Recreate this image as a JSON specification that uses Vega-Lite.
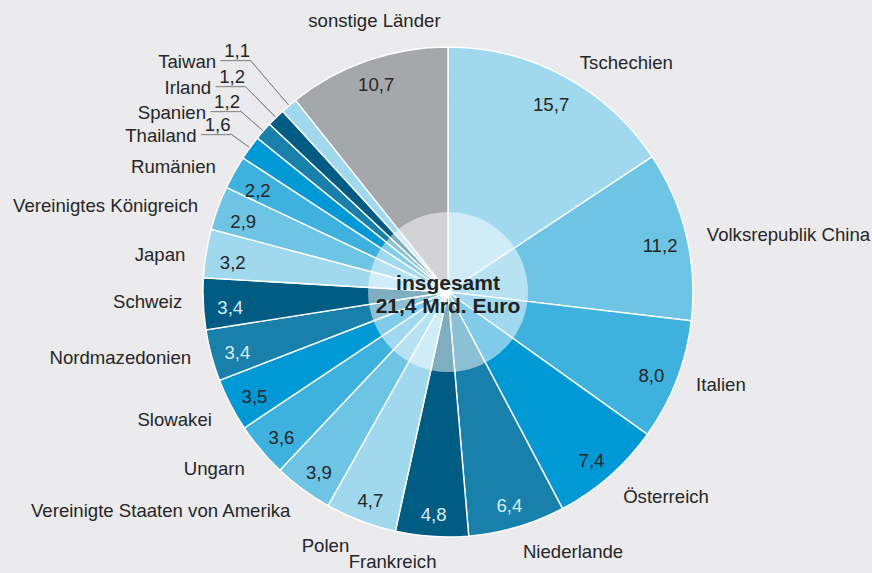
{
  "$schema": "https://vega.github.io/schema/vega-lite/v6.json",
  "width": 848,
  "height": 562,
  "autosize": "none",
  "padding": {"left": 24, "top": 11, "right": 0, "bottom": 0},
  "background": "#ebebed",
  "config": {
    "view": {"stroke": null},
    "locale": {"number": {"decimal": ",", "thousands": ".", "grouping": [3], "currency": ["", " €"]}},
    "text": {"font": "Liberation Sans", "fontSize": 18.6, "color": "#262626"}
  },
  "data": {
    "values": [
      {"country": "Tschechien", "share": 15.7},
      {"country": "Volksrepublik China", "share": 11.2},
      {"country": "Italien", "share": 8.0},
      {"country": "Österreich", "share": 7.4},
      {"country": "Niederlande", "share": 6.4},
      {"country": "Frankreich", "share": 4.8},
      {"country": "Polen", "share": 4.7},
      {"country": "Vereinigte Staaten von Amerika", "share": 3.9},
      {"country": "Ungarn", "share": 3.6},
      {"country": "Slowakei", "share": 3.5},
      {"country": "Nordmazedonien", "share": 3.4},
      {"country": "Schweiz", "share": 3.4},
      {"country": "Japan", "share": 3.2},
      {"country": "Vereinigtes Königreich", "share": 2.9},
      {"country": "Rumänien", "share": 2.2},
      {"country": "Thailand", "share": 1.6},
      {"country": "Spanien", "share": 1.2},
      {"country": "Irland", "share": 1.2},
      {"country": "Taiwan", "share": 1.1},
      {"country": "sonstige Länder", "share": 10.7}
    ]
  },
  "transform": [
    {"window": [{"op": "row_number", "as": "idx"}]},
    {"stack": "share", "groupby": [], "sort": [{"field": "idx", "order": "ascending"}], "as": ["s0", "s1"]},
    {"calculate": "(datum.s0 + datum.s1) / 2", "as": "mid"}
  ],
  "layer": [
    {
      "mark": {"type": "arc", "radius": 245, "stroke": "#ffffff", "strokeWidth": 1.4},
      "encoding": {
        "theta": {"field": "s0", "type": "quantitative", "stack": null, "scale": {"domain": [0, 100.1]}},
        "theta2": {"field": "s1"},
        "color": {
          "field": "country", "type": "nominal", "legend": null,
          "scale": {
            "domain": ["Tschechien", "Volksrepublik China", "Italien", "Österreich", "Niederlande", "Frankreich", "Polen", "Vereinigte Staaten von Amerika", "Ungarn", "Slowakei", "Nordmazedonien", "Schweiz", "Japan", "Vereinigtes Königreich", "Rumänien", "Thailand", "Spanien", "Irland", "Taiwan", "sonstige Länder"],
            "range": ["#a0d9ee", "#6ec4e5", "#3fb1de", "#0098d5", "#1880aa", "#015c83", "#a0d9ee", "#6ec4e5", "#3fb1de", "#0098d5", "#1880aa", "#015c83", "#a0d9ee", "#6ec4e5", "#3fb1de", "#0098d5", "#1880aa", "#015c83", "#a0d9ee", "#a6a7ab"]
          }
        }
      }
    },
    {
      "data": {"values": [{"line1": "insgesamt", "line2": "21,4 Mrd. Euro"}]},
      "mark": {"type": "arc", "radius": 80, "theta": 0, "theta2": 6.2832, "fill": "#ffffff", "fillOpacity": 0.5, "strokeWidth": 0},
      "encoding": {}
    },
    {
      "data": {"values": [{"line1": "insgesamt", "line2": "21,4 Mrd. Euro"}]},
      "mark": {"type": "text", "fontWeight": "bold", "fontSize": 21, "dy": -8, "color": "#222222"},
      "encoding": {"text": {"field": "line1"}}
    },
    {
      "data": {"values": [{"line1": "insgesamt", "line2": "21,4 Mrd. Euro"}]},
      "mark": {"type": "text", "fontWeight": "bold", "fontSize": 21, "dy": 15, "color": "#222222"},
      "encoding": {"text": {"field": "line2"}}
    },
    {
      "transform": [{"filter": "datum.idx < 16 || datum.idx > 19"}],
      "mark": {"type": "text", "radius": 218, "dy": {"expr": "datum.idx == 20 ? -1 : 5"}},
      "encoding": {
        "theta": {"field": "mid", "type": "quantitative", "stack": null},
        "text": {"field": "share", "type": "quantitative", "format": ".1f"},
        "color": {"condition": {"test": "datum.idx % 6 == 5 || datum.idx % 6 == 0", "value": "#d8ebf4"}, "value": "#262626"}
      }
    },
    {
      "transform": [{"filter": "datum.idx <= 5"}],
      "mark": {"type": "text", "radius": 266, "align": "left", "dy": {"expr": "datum.idx == 3 ? -3 : 5"}, "dx": {"expr": "datum.idx == 1 ? 6 : 0"}},
      "encoding": {
        "theta": {"field": "mid", "type": "quantitative", "stack": null},
        "text": {"field": "country"}
      }
    },
    {
      "transform": [{"filter": "datum.idx >= 6 && datum.idx <= 15"}],
      "mark": {"type": "text", "radius": 266, "align": "right", "dy": {"expr": "(datum.idx == 11 || datum.idx == 12) ? -3 : 5"}, "dx": {"expr": "datum.idx == 6 ? 6 : (datum.idx == 7 ? -4 : 0)"}},
      "encoding": {
        "theta": {"field": "mid", "type": "quantitative", "stack": null},
        "text": {"field": "country"}
      }
    },
    {
      "transform": [{"filter": "datum.idx == 20"}],
      "mark": {"type": "text", "radius": 287, "align": "center", "dx": 21},
      "encoding": {
        "theta": {"field": "mid", "type": "quantitative", "stack": null},
        "text": {"field": "country"}
      }
    },
    {
      "transform": [{"filter": "datum.idx >= 16 && datum.idx <= 19"}],
      "mark": {"type": "arc", "radius2": 246, "fill": "transparent", "stroke": "#8c8c8c", "strokeWidth": 1},
      "encoding": {
        "theta": {"field": "mid", "type": "quantitative", "stack": null},
        "theta2": {"field": "mid"},
        "radius": {"field": "idx", "type": "quantitative", "scale": {"type": "linear", "zero": false, "domain": [16, 17, 18, 19], "range": [269, 276, 289, 305]}}
      }
    },
    {
      "transform": [{"filter": "datum.idx >= 16 && datum.idx <= 19"}],
      "mark": {"type": "text", "align": "right", "baseline": "alphabetic", "font": "DejaVu Sans Mono", "fontSize": 7, "dy": 3, "color": "#8c8c8c", "text": "━━━━━━━"},
      "encoding": {
        "theta": {"field": "mid", "type": "quantitative", "stack": null},
        "radius": {"field": "idx", "type": "quantitative"}
      }
    },
    {
      "transform": [{"filter": "datum.idx >= 16 && datum.idx <= 19"}],
      "mark": {"type": "text", "align": "right", "baseline": "alphabetic", "dy": -3, "dx": 0},
      "encoding": {
        "theta": {"field": "mid", "type": "quantitative", "stack": null},
        "radius": {"field": "idx", "type": "quantitative"},
        "text": {"field": "share", "type": "quantitative", "format": ".1f"}
      }
    },
    {
      "transform": [{"filter": "datum.idx >= 16 && datum.idx <= 19"}],
      "mark": {"type": "text", "align": "right", "baseline": "alphabetic", "dy": 8, "dx": -34},
      "encoding": {
        "theta": {"field": "mid", "type": "quantitative", "stack": null},
        "radius": {"field": "idx", "type": "quantitative"},
        "text": {"field": "country"}
      }
    }
  ]
}
